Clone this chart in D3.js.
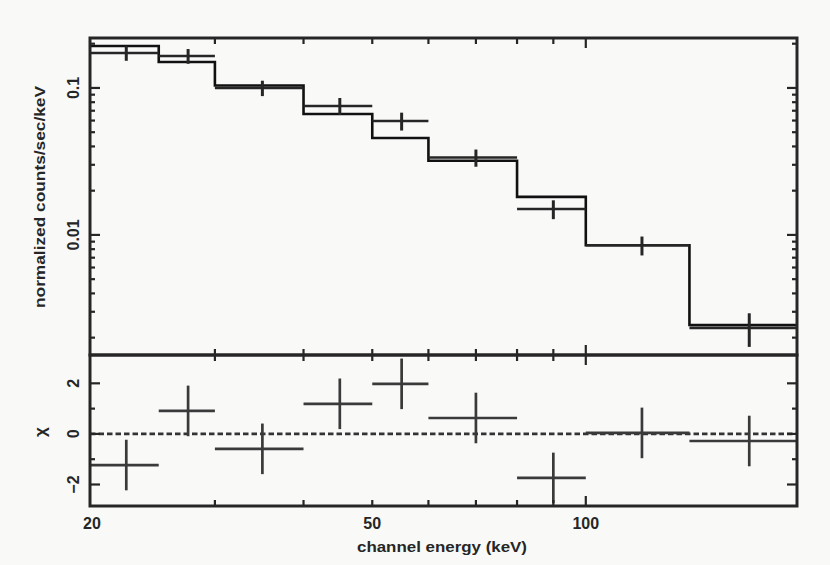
<!DOCTYPE html>
<html><head><meta charset="utf-8">
<script src="https://cdn.jsdelivr.net/npm/d3@7"></script>
<style>
html,body{margin:0;padding:0;background:#f9faf8;}
svg{display:block;}
text{font-family:"Liberation Sans",Arial,sans-serif;fill:#262626;font-weight:bold;}
</style></head>
<body>
<svg id="c" width="830" height="565"></svg>
<script>
// ---- data ----
const binLo   = [20, 25, 30, 40, 50, 60, 80, 100, 140];
const binHi   = [25, 30, 40, 50, 60, 80, 100, 140, 200];
const counts  = [0.173, 0.165, 0.100, 0.0754, 0.0596, 0.0336, 0.0150, 0.0085, 0.00233];
const countErr= [0.020, 0.019, 0.012, 0.010, 0.0083, 0.0045, 0.0022, 0.00125, 0.0006];
const model   = [0.193, 0.150, 0.104, 0.0665, 0.0457, 0.0320, 0.01815, 0.0085, 0.00244];
const resid   = [-1.23, 0.91, -0.59, 1.19, 1.98, 0.63, -1.74, 0.04, -0.28];
const residErr= [1, 1, 1, 1, 1, 1, 1, 1, 1];
const xTickVals   = [30, 40, 50, 60, 70, 80, 90, 100];
const xMajorVals  = [100];
const xTickLabels = [20, 50, 100];
const yTopMajor   = [0.01, 0.1];
const yTopLabels  = ["0.01", "0.1"];
const yResMajor   = [-2, 0, 2];
const yResMinor   = [-1, 1];
const yResLabels  = ["\u22122", "0", "2"];

// ---- layout ----
const L = 90, R = 797, T = 38, M = 355, B = 506;
const svg = d3.select("#c");

const x = d3.scaleLog().domain([20, 198.5]).range([L, R]);
const yTop = d3.scaleLog().domain([0.001524, 0.2187]).range([M, T]);
const yRes = d3.scaleLinear().domain([-2.85, 3.12]).range([B, M]);

const defs = svg.append("defs");
defs.append("clipPath").attr("id","clipTop")
  .append("rect").attr("x",L).attr("y",T).attr("width",R-L).attr("height",M-T);
defs.append("clipPath").attr("id","clipRes")
  .append("rect").attr("x",L).attr("y",M).attr("width",R-L).attr("height",B-M);

const ink = "#262626";

// ---- top panel: model histogram ----
const gTop = svg.append("g").attr("clip-path","url(#clipTop)");
const stepPts = binLo.map((lo,i)=>[lo, model[i]]).concat([[binHi[binHi.length-1], model[model.length-1]]]);
gTop.append("path")
  .attr("d", d3.line().x(d=>x(d[0])).y(d=>yTop(d[1])).curve(d3.curveStepAfter)(stepPts))
  .attr("fill","none").attr("stroke","#111").attr("stroke-width",2.6);

// data crosses
binLo.forEach((lo,i)=>{
  const cx = x((lo+binHi[i])/2);
  gTop.append("line").attr("x1",x(lo)).attr("x2",x(binHi[i]))
    .attr("y1",yTop(counts[i])).attr("y2",yTop(counts[i]))
    .attr("stroke",ink).attr("stroke-width",2.6);
  gTop.append("line").attr("x1",cx).attr("x2",cx)
    .attr("y1",yTop(counts[i]+countErr[i])).attr("y2",yTop(counts[i]-countErr[i]))
    .attr("stroke",ink).attr("stroke-width",3);
});

// ---- residual panel ----
const gRes = svg.append("g").attr("clip-path","url(#clipRes)");
gRes.append("line").attr("x1",L).attr("x2",R).attr("y1",yRes(0)).attr("y2",yRes(0))
  .attr("stroke","#333").attr("stroke-width",2.8).attr("stroke-dasharray","5.5,3");
binLo.forEach((lo,i)=>{
  const cx = x((lo+binHi[i])/2);
  gRes.append("line").attr("x1",x(lo)).attr("x2",x(binHi[i]))
    .attr("y1",yRes(resid[i])).attr("y2",yRes(resid[i]))
    .attr("stroke","#3a3a3a").attr("stroke-width",2.7);
  gRes.append("line").attr("x1",cx).attr("x2",cx)
    .attr("y1",yRes(resid[i]+residErr[i])).attr("y2",yRes(resid[i]-residErr[i]))
    .attr("stroke","#3a3a3a").attr("stroke-width",2.7);
});

// ---- frames and ticks ----
const frame = svg.append("g").attr("stroke",ink).attr("fill","none");
function tickX(v, y0, dir, len){
  frame.append("line").attr("x1",x(v)).attr("x2",x(v)).attr("y1",y0).attr("y2",y0+dir*len)
    .attr("stroke-width",2.2);
}
function tickY(y, len){
  frame.append("line").attr("x1",L).attr("x2",L+len).attr("y1",y).attr("y2",y).attr("stroke-width",2.2);
  frame.append("line").attr("x1",R).attr("x2",R-len).attr("y1",y).attr("y2",y).attr("stroke-width",2.2);
}
xTickVals.forEach(v=>{
  const len = xMajorVals.includes(v) ? 10 : 6;
  tickX(v, T, 1, len); tickX(v, M, -1, len);
  tickX(v, M, 1, len); tickX(v, B, -1, len);
});
// top panel log y ticks
const yMinorTop = [];
[0.001, 0.01, 0.1].forEach(d=>{ for(let k=1;k<=9;k++){ const v=d*k; if(v>=yTop.domain()[0] && v<=yTop.domain()[1]) yMinorTop.push(v);} });
yMinorTop.forEach(v=>{
  const major = yTopMajor.some(m=>Math.abs(m-v)<1e-9);
  tickY(yTop(v), major ? 10 : 5);
});
yResMajor.forEach(v=>tickY(yRes(v), 10));
yResMinor.forEach(v=>tickY(yRes(v), 5));

frame.append("rect").attr("x",L).attr("y",T).attr("width",R-L).attr("height",M-T).attr("stroke-width",3);
frame.append("rect").attr("x",L).attr("y",M).attr("width",R-L).attr("height",B-M).attr("stroke-width",3);

// ---- labels ----
xTickLabels.forEach(v=>{
  svg.append("text").attr("x",x(v)+ (v===20?2:0)).attr("y",529).attr("text-anchor","middle")
    .attr("font-size",16).text(v);
});
svg.append("text").attr("x",442).attr("y",552).attr("text-anchor","middle")
  .attr("font-size",15).attr("textLength",170).attr("lengthAdjust","spacingAndGlyphs")
  .text("channel energy (keV)");

function vlabel(txt, cx, cy, size, len){
  const t = svg.append("text").attr("transform",`translate(${cx},${cy}) rotate(-90)`)
    .attr("text-anchor","middle").attr("dy","0.35em").attr("font-size",size).text(txt);
  if(len) t.attr("textLength",len).attr("lengthAdjust","spacingAndGlyphs");
}
yTopMajor.forEach((v,i)=>vlabel(yTopLabels[i], 73, yTop(v), 16));
yResMajor.forEach((v,i)=>vlabel(yResLabels[i], 73, yRes(v), 16));
vlabel("normalized counts/sec/keV", 40, 197, 15, 222);
vlabel("\u03c7", 40, 432, 17);
</script>
</body></html>
